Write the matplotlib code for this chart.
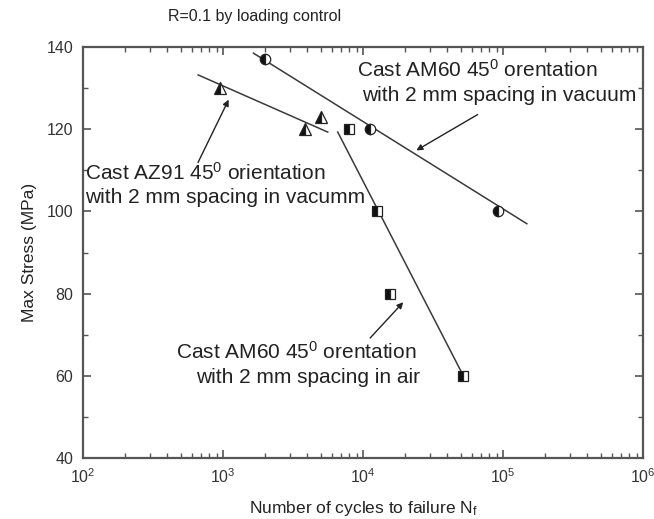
import matplotlib
matplotlib.use("Agg")
import matplotlib.pyplot as plt
from matplotlib.ticker import LogLocator, MultipleLocator, LogFormatterMathtext, NullFormatter

plt.rcParams['font.family'] = ['Liberation Sans', 'DejaVu Sans']
plt.rcParams['mathtext.fontset'] = 'custom'
plt.rcParams['mathtext.rm'] = 'Liberation Sans'
plt.rcParams['mathtext.it'] = 'Liberation Sans'

# Data
az91_N = [950, 3850, 5000]
az91_S = [130, 120, 123]
am60v_N = [2000, 11200, 92000]
am60v_S = [137, 120, 100]
am60a_N = [8000, 12600, 15500, 51700]
am60a_S = [120, 100, 80, 60]

# Fitted trend lines (endpoints)
az91_fit_N = [665, 5600]
az91_fit_S = [133.2, 119.3]
am60v_fit_N = [1650, 148000]
am60v_fit_S = [138.5, 97]
am60a_fit_N = [6600, 53000]
am60a_fit_S = [119.3, 59.5]

yticks = [40, 60, 80, 100, 120, 140]

fig = plt.figure(figsize=(6.54, 5.19), dpi=100)
ax = fig.add_axes([83/654, 1-458/519, (643-83)/654, (458-47)/519])

lc = '#3a3a3a'
ax.plot(az91_fit_N, az91_fit_S, color=lc, lw=1.1, zorder=2)
ax.plot(am60v_fit_N, am60v_fit_S, color=lc, lw=1.1, zorder=2)
ax.plot(am60a_fit_N, am60a_fit_S, color=lc, lw=1.1, zorder=2)

mk = dict(linestyle='none', fillstyle='left', markerfacecolor='#111111',
          markerfacecoloralt='white', markeredgecolor='#222222', markeredgewidth=0.9, zorder=3)
ax.plot(az91_N, az91_S, marker='^', markersize=8.5, **mk)
ax.plot(am60v_N, am60v_S, marker='o', markersize=7.5, **mk)
ax.plot(am60a_N, am60a_S, marker='s', markersize=6.5, **mk)

ax.set_xscale('log')
ax.set_xlim(1e2, 1e6)
ax.set_ylim(40, 140)
ax.set_yticks(yticks)
ax.yaxis.set_minor_locator(MultipleLocator(10))
ax.xaxis.set_major_locator(LogLocator(base=10, numticks=10))
ax.xaxis.set_minor_locator(LogLocator(base=10, subs=range(2, 10), numticks=20))
ax.xaxis.set_major_formatter(LogFormatterMathtext())
ax.xaxis.set_minor_formatter(NullFormatter())

for s in ax.spines.values():
    s.set_linewidth(1.6)
    s.set_color('#555555')
ax.tick_params(which='both', direction='in', top=True, right=True, color='#555555',
               labelsize=11.5, labelcolor='#333333')
ax.tick_params(which='major', length=6, width=1.2, pad=7)
ax.tick_params(which='minor', length=3.5, width=1.0)

ax.set_xlabel('Number of cycles to failure N$_f$', fontsize=12.5, color='#222222', labelpad=9)
ax.set_ylabel('Max Stress (MPa)', fontsize=12.5, color='#222222', labelpad=7)

fig.text(168/654, 1-17/519, 'R=0.1 by loading control', fontsize=11.5, color='#222222',
         ha='left', va='center')

tc = '#222222'
fs = 15
# AZ91 annotation
ax.annotate('', xy=(1.12e3, 127.8), xytext=(650, 111.3),
            arrowprops=dict(arrowstyle='-|>', color=tc, lw=1.0, mutation_scale=9))
ax.text(103, 109.3, 'Cast AZ91 45$^0$ orientation', fontsize=fs, color=tc, ha='left', va='center')
ax.text(103, 103.3, 'with 2 mm spacing in vacumm', fontsize=fs, color=tc, ha='left', va='center')

# AM60 vacuum annotation
ax.annotate('', xy=(2.31e4, 114.5), xytext=(6.85e4, 123.9),
            arrowprops=dict(arrowstyle='-|>', color=tc, lw=1.0, mutation_scale=9))
ax.text(9.06e3, 134.4, 'Cast AM60 45$^0$ orentation', fontsize=fs, color=tc, ha='left', va='center')
ax.text(9.8e3, 128.3, 'with 2 mm spacing in vacuum', fontsize=fs, color=tc, ha='left', va='center')

# AM60 air annotation
ax.annotate('', xy=(2.0e4, 78.4), xytext=(1.09e4, 68.7),
            arrowprops=dict(arrowstyle='-|>', color=tc, lw=1.0, mutation_scale=9))
ax.text(461, 65.8, 'Cast AM60 45$^0$ orentation', fontsize=fs, color=tc, ha='left', va='center')
ax.text(641, 59.5, 'with 2 mm spacing in air', fontsize=fs, color=tc, ha='left', va='center')

fig.savefig('out.png', dpi=100)
